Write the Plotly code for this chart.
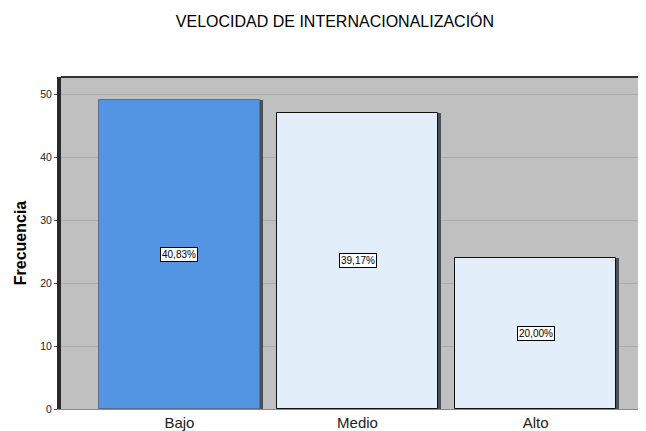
import plotly.graph_objects as go

categories = ["Bajo", "Medio", "Alto"]
frequencies = [49, 47, 24]
percent_labels = ["40,83%", "39,17%", "20,00%"]
bar_colors = ["#5394e3", "#e3eefb", "#e3eefb"]
bar_lines = ["#5a6f8c", "#111111", "#111111"]

W = 0.905
shadow_shift = 0.018

fig = go.Figure()
# drop shadow
fig.add_trace(go.Bar(
    x=categories, y=frequencies, width=W, offset=-W / 2 + shadow_shift,
    marker=dict(color="#4a4f58", line=dict(width=0)), hoverinfo="skip", showlegend=False,
))
fig.add_trace(go.Bar(
    x=categories, y=frequencies, width=W, offset=-W / 2,
    marker=dict(color=bar_colors, line=dict(color=bar_lines, width=1)),
    showlegend=False,
))

for c, v, t in zip(categories, frequencies, percent_labels):
    fig.add_annotation(
        x=c, y=v / 2, text=t, showarrow=False,
        font=dict(family="Liberation Sans, Arial", size=10, color="#000"),
        bgcolor="#ffffff", bordercolor="#000000", borderwidth=1, borderpad=1,
    )

fig.update_layout(
    width=638, height=423,
    margin=dict(l=53, r=0, t=69, b=22, autoexpand=False),
    paper_bgcolor="#ffffff", plot_bgcolor="#c0c0c0",
    barmode="overlay", bargap=0,
    title=dict(
        text="VELOCIDAD DE INTERNACIONALIZACIÓN",
        x=0.5125, xanchor="center", y=0.968, yanchor="middle",
        font=dict(family="Liberation Sans, Arial", size=16, color="#000"),
    ),
    font=dict(family="Liberation Sans, Arial", color="#000"),
    xaxis=dict(
        range=[-0.665, 2.62], showgrid=False, ticks="", zeroline=False,
        tickfont=dict(size=15, color="#222"), showline=True, linecolor="#8a8a8a", linewidth=1,
        mirror=False, automargin=False,
    ),
    yaxis=dict(
        range=[0, 52.7], tickvals=[0, 10, 20, 30, 40, 50], ticks="outside", ticklen=3,
        tickcolor="#555", tickfont=dict(size=10.5, color="#222"),
        showgrid=True, gridcolor="#acacac", gridwidth=1, zeroline=False,
        showline=True, linecolor="#2a2a2a", linewidth=4, automargin=False,
        title=dict(text="<b>Frecuencia</b>", font=dict(size=16, color="#000"), standoff=11),
    ),
    shapes=[dict(type="line", xref="paper", yref="paper", x0=0, x1=1, y0=1, y1=1,
                 line=dict(color="#333333", width=2))],
)

fig.write_html("out.html")
